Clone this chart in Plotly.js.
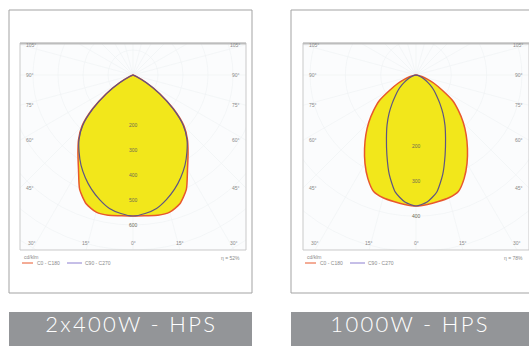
<!DOCTYPE html>
<html><head><meta charset="utf-8">
<script src="https://cdn.plot.ly/plotly-3.0.1.min.js"></script>
<style>
html,body{margin:0;padding:0;background:#fff;}
#chart{width:529px;height:346px;}
g.annotation[data-index="0"] text, g.annotation[data-index="1"] text{letter-spacing:2.3px;}
</style></head><body><div id="chart"></div>
<script>
// ---- data (intensity in cd/klm per angle from nadir, symmetric halves) ----
const angles = [0,5,10,15,20,25,30,35,40,45,50,55,60,65,70,75,80,85,90];
const p1C0  = [564,565,570,568,548,505,436,384,339,288,212,132,64,16,0,0,0,0,0];
const p1C90 = [564,556,542,516,486,452,416,376,336,284,208,128,60,16,0,0,0,0,0];
const p2C0  = [371,368,364,360,351,323,289,254,221,189,157,127,85,57,34,17,6,0,0];
const p2C90 = [371,361,337,292,241,198,164,133,105,82,65,48,34,23,14,7,3,0,0];
const p1Rings = [200,300,400,500,600];
const p2Rings = [200,300,400];
const sideAngles = [105,90,75,60,45];
const bottomAngles = [-30,-15,0,15,30];
const titles = ["2x400W - HPS","1000W - HPS"];
const efficiency = ["η = 52%","η = 78%"];
const legendNames = ["C0 - C180","C90 - C270"];
const unitLabel = "cd/klm";

const W=529,H=346;
const px=v=>v/W, py=v=>1-v/H;
const RED="#e8582c", BLUE="#5d5485", YEL="#f2e71b";

function curve(vals){
  const xs=[],ys=[];
  for(let i=angles.length-1;i>=0;i--){const t=-angles[i]*Math.PI/180;xs.push(vals[i]*Math.sin(t));ys.push(-vals[i]*Math.cos(t));}
  for(let i=1;i<angles.length;i++){const t=angles[i]*Math.PI/180;xs.push(vals[i]*Math.sin(t));ys.push(-vals[i]*Math.cos(t));}
  return {xs,ys};
}

const panels=[
  {c0:p1C0,c90:p1C90,rings:p1Rings,xa:'x',ya:'y',xr:[-452,452],yr:[-700,128],box:[20,246],border:[9,252],lab:[9,252]},
  {c0:p2C0,c90:p2C90,rings:p2Rings,xa:'x2',ya:'y2',xr:[-320,320],yr:[-495.6,90.6],box:[303,529],border:[291,560],lab:[291,529]}
];

const traces=[], shapes=[], ann=[];
panels.forEach((p,k)=>{
  ann.push({xref:'paper',yref:'paper',x:px((p.lab[0]+p.lab[1])/2),y:py(323.5),xanchor:'center',yanchor:'middle',
    text:titles[k],showarrow:false,font:{family:'Lato, Liberation Sans, sans-serif',size:22,color:'#ffffff',weight:300}});
});

panels.forEach((p,k)=>{
  const red=curve(p.c0), blue=curve(p.c90);
  traces.push({x:red.xs,y:red.ys,xaxis:p.xa,yaxis:p.ya,type:'scatter',mode:'lines',fill:'toself',fillcolor:YEL,
    line:{color:RED,width:1.5,shape:'spline',smoothing:0.6},hoverinfo:'skip',showlegend:false,name:legendNames[0]});
  traces.push({x:blue.xs,y:blue.ys,xaxis:p.xa,yaxis:p.ya,type:'scatter',mode:'lines',
    line:{color:BLUE,width:1.2,shape:'spline',smoothing:0.6},hoverinfo:'skip',showlegend:false,name:legendNames[1]});
  const step=100;
  for(let r=step;r<=1000;r+=step){
    shapes.push({type:'circle',xref:p.xa,yref:p.ya,x0:-r,x1:r,y0:-r,y1:r,line:{color:'#eef1f3',width:0.6},layer:'below'});
  }
  for(let a=-165;a<=180;a+=15){
    const t=a*Math.PI/180;
    shapes.push({type:'line',xref:p.xa,yref:p.ya,x0:0,y0:0,x1:3000*Math.sin(t),y1:-3000*Math.cos(t),line:{color:'#eef1f3',width:0.6},layer:'below'});
  }
  shapes.push({type:'rect',xref:'paper',yref:'paper',x0:px(p.box[0]),x1:px(p.box[1]),y0:py(250),y1:py(43),line:{color:'#c9c9c9',width:1}});
  shapes.push({type:'line',xref:'paper',yref:'paper',x0:px(p.box[0]),x1:px(p.box[1]),y0:py(43.5),y1:py(43.5),line:{color:'#bdbdbd',width:2}});
  shapes.push({type:'rect',xref:'paper',yref:'paper',x0:px(p.border[0]),x1:px(p.border[1]),y0:py(293),y1:py(10),line:{color:'#a3a3a3',width:1}});
  shapes.push({type:'rect',xref:'paper',yref:'paper',x0:px(p.lab[0]),x1:px(p.lab[1]),y0:py(346),y1:py(312),fillcolor:'#939598',line:{width:0}});
  p.rings.forEach(r=>ann.push({xref:p.xa,yref:p.ya,x:0,y:-r,text:String(r),showarrow:false,font:{family:'Liberation Sans',size:5,color:'#6f6a55'}}));
  const X=p.xr[1];
  sideAngles.forEach(a=>{
    const y=-X/Math.tan(a*Math.PI/180);
    ann.push({xref:p.xa,yref:p.ya,x:p.xr[0],y:y,xanchor:'left',xshift:4,text:a+'°',showarrow:false,font:{family:'Liberation Sans',size:5,color:'#8a8a8a'}});
    ann.push({xref:p.xa,yref:p.ya,x:p.xr[1],y:y,xanchor:'right',xshift:-4,text:a+'°',showarrow:false,font:{family:'Liberation Sans',size:5,color:'#8a8a8a'}});
  });
  bottomAngles.forEach(a=>{
    const x=-p.yr[0]*Math.tan(a*Math.PI/180);
    ann.push({xref:p.xa,yref:p.ya,x:x,y:p.yr[0],yanchor:'bottom',yshift:2,text:Math.abs(a)+'°',showarrow:false,font:{family:'Liberation Sans',size:5,color:'#8a8a8a'}});
  });
  const L=p.box[0];
  ann.push({xref:'paper',yref:'paper',x:px(L+2),y:py(257),xanchor:'left',yanchor:'middle',text:unitLabel,showarrow:false,font:{family:'Liberation Sans',size:5,color:'#8a8a8a'}});
  shapes.push({type:'line',xref:'paper',yref:'paper',x0:px(L+2),x1:px(L+13),y0:py(263),y1:py(263),line:{color:RED,width:1}});
  ann.push({xref:'paper',yref:'paper',x:px(L+15),y:py(263),xanchor:'left',yanchor:'middle',text:legendNames[0],showarrow:false,font:{family:'Liberation Sans',size:5,color:'#8a8a8a'}});
  shapes.push({type:'line',xref:'paper',yref:'paper',x0:px(L+47),x1:px(L+62),y0:py(263),y1:py(263),line:{color:'#8c7fd0',width:1}});
  ann.push({xref:'paper',yref:'paper',x:px(L+63),y:py(263),xanchor:'left',yanchor:'middle',text:legendNames[1],showarrow:false,font:{family:'Liberation Sans',size:5,color:'#8a8a8a'}});
  ann.push({xref:'paper',yref:'paper',x:px(p.box[1]-4),y:py(258),xanchor:'right',yanchor:'middle',text:efficiency[k],showarrow:false,font:{family:'Liberation Sans',size:5,color:'#8a8a8a'}});
});

const ax=(dom,rng)=>({domain:dom,range:rng,visible:false,fixedrange:true});
const layout={
  width:W,height:H,margin:{l:0,r:0,t:0,b:0},paper_bgcolor:'#ffffff',plot_bgcolor:'#fbfcfd',showlegend:false,
  xaxis:ax([px(20),px(246)],panels[0].xr), yaxis:ax([py(250),py(43)],panels[0].yr),
  xaxis2:ax([px(303),px(529)],panels[1].xr), yaxis2:ax([py(250),py(43)],panels[1].yr),
  shapes:shapes, annotations:ann
};
Plotly.newPlot('chart',traces,layout,{staticPlot:true,displayModeBar:false});
</script></body></html>
